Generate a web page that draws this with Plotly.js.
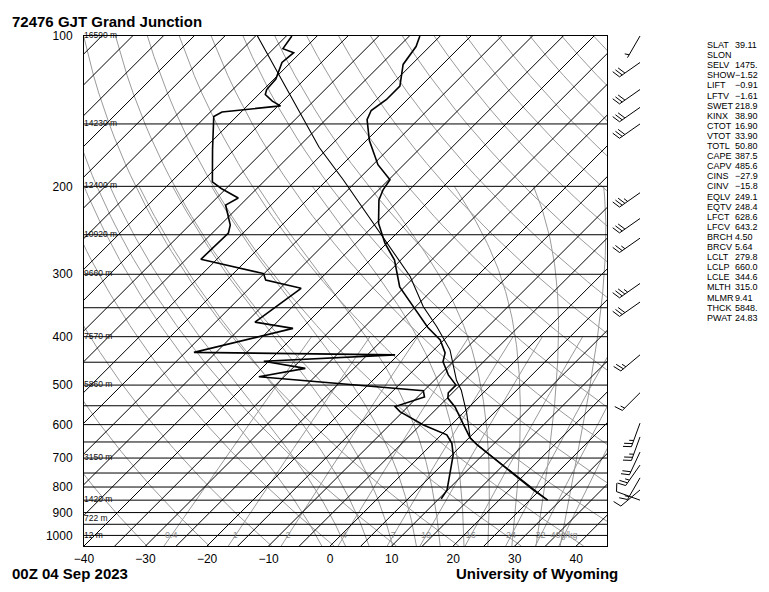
<!DOCTYPE html>
<html><head><meta charset="utf-8">
<script src="https://cdn.plot.ly/plotly-3.0.1.min.js"></script>
<style>html,body{margin:0;padding:0;background:#fff;}#chart{width:769px;height:592px;}</style>
</head><body><div id="chart"></div>
<script>
// ---- sounding data ----
const tempP = [100,105,114,126,134,141,147,162,181,194,203,213,237,260,281,318,351,383,406,431,449,477,500,518,531,553,596,638,659,684,716,764,811,850];
const tempT = [-68.3,-67.2,-66.4,-63.4,-63.4,-64.1,-63.3,-59.5,-54.2,-49.8,-49.3,-48.3,-44.6,-40.3,-36.0,-30.8,-24.9,-19.7,-15.6,-12.7,-11.6,-8.6,-5.7,-5.7,-4.9,-2.3,1.6,5.2,7.5,10.4,14.1,19.2,23.9,27.9];
const dwptP = [100,106,108,113,122,128,131,135,138,142,145,169,196,202,211,218,239,248,280,299,308,320,374,385,430,435,448,463,481,513,528,552,565,601,629,654,690,763,811,845];
const dwptT = [-89.1,-88.5,-86.1,-86.4,-84.7,-84.5,-83.9,-81.7,-79.6,-88.1,-88.7,-83.5,-78.3,-75.8,-71.5,-72.4,-68.4,-67.4,-67.6,-55.1,-53.7,-46.6,-48.6,-41.4,-53.6,-20.5,-40.8,-32.9,-39.1,-10.1,-8.9,-12.1,-10.5,-4.5,0.9,3.1,5.2,8.2,9.9,10.4];
const parcelP = [100,167,194,303,348,382,425,489,512,569,638,659,850];
const parcelT = [-94.7,-66.6,-57.4,-30.8,-23.8,-18.3,-12.4,-6.4,-4.0,0.6,5.2,7.5,27.9];
const windP   = [100,113,128,139,150,206,232,254,313,341,435,518,596,635,681,723,767,811,850];
const windDir = [210,235,235,235,235,235,235,235,235,235,230,225,200,200,205,215,210,230,290];
const windSpd = [5,30,30,30,30,35,30,25,35,30,25,15,25,25,20,25,15,10,10];
const heightP = [100,150,200,250,300,400,500,700,850,925,1000];
const heightLabels = ['16590 m','14230 m','12400 m','10920 m','9660 m','7570 m','5860 m','3150 m','1420 m','722 m','12 m'];
const pressureTicks = [100,200,300,400,500,600,700,800,900,1000];
const tempTicks = [-40,-30,-20,-10,0,10,20,30,40];
const mixRatios = [0.4,1,2,4,7,10,16,24,32,40];
const mixLabels = ['0.4','1','2','4','7','10','16','24','32','40g/kg'];
const indexNames = ['SLAT','SLON','SELV','SHOW','LIFT','LFTV','SWET','KINX','CTOT','VTOT','TOTL','CAPE','CAPV','CINS','CINV','EQLV','EQTV','LFCT','LFCV','BRCH','BRCV','LCLT','LCLP','LCLE','MLTH','MLMR','THCK','PWAT'];
const indexValues = ['39.11','','1475.','\u22121.52','\u22120.91','\u22121.61','218.9','38.90','16.90','33.90','50.80','387.5','485.6','\u221227.9','\u221215.8','249.1','248.4','628.6','643.2','4.50','5.64','279.8','660.0','344.6','315.0','9.41','5848.','24.83'];
const stationTitle = '72476 GJT Grand Junction';
const dateLabel = '00Z 04 Sep 2023';
const sourceLabel = 'University of Wyoming';

// ---- diagram geometry ----
const PTOP = 100, PBOT = 1050, TMIN = -40, TMAX = 45;
const W = 769, H = 592, ML = 84, MT = 36, MB = 46;
const plotW = 523, plotH = H - MT - MB;
const PXDEC = plotH / Math.log10(PBOT / PTOP);
const PXDEG = plotW / (TMAX - TMIN);
const SKEW = PXDEC / PXDEG;
const sx = (T, p) => T + SKEW * Math.log10(PBOT / p);

const GRAY = '#9a9a9a';
function lineTrace(xs, ys, color, width, axis) {
  return {x: xs, y: ys, mode: 'lines', type: 'scatter', hoverinfo: 'skip', showlegend: false,
    line: {color: color, width: width}, xaxis: axis || 'x', yaxis: 'y'};
}

// dry adiabats
const daX = [], daY = [];
for (let th = 230; th <= 460; th += 10) {
  for (let p = PBOT; p >= PTOP; p -= 10) {
    const T = th * Math.pow(p / 1000, 0.2857) - 273.15;
    daX.push(sx(T, p)); daY.push(p);
  }
  daX.push(null); daY.push(null);
}
// moist adiabats
function es(Tc) { return 6.112 * Math.exp(17.67 * Tc / (Tc + 243.5)); }
function dTdp(T, p) {
  const e = es(T - 273.15), rs = 0.622 * e / (p - e);
  const Rd = 287.04, cp = 1005.7, Lv = 2.501e6;
  return (Rd * T + Lv * rs) / (p * (cp + Lv * Lv * rs * 0.622 / (Rd * T * T)));
}
function integrate(T0, p0, p1, dp) {
  const out = [];
  let T = T0, p = p0;
  out.push([p, T]);
  const n = Math.round(Math.abs(p1 - p0) / Math.abs(dp));
  for (let i = 0; i < n; i++) {
    const k1 = dTdp(T, p), k2 = dTdp(T + k1 * dp / 2, p + dp / 2);
    const k3 = dTdp(T + k2 * dp / 2, p + dp / 2), k4 = dTdp(T + k3 * dp, p + dp);
    T += dp * (k1 + 2 * k2 + 2 * k3 + k4) / 6; p += dp;
    out.push([p, T]);
  }
  return out;
}
const maX = [], maY = [];
for (let tw = -4; tw <= 36; tw += 4) {
  const down = integrate(tw + 273.15, 1000, PBOT, 5).reverse();
  const up = integrate(tw + 273.15, 1000, 200, -5).slice(1);
  down.concat(up).forEach(([p, T]) => { maX.push(sx(T - 273.15, p)); maY.push(p); });
  maX.push(null); maY.push(null);
}
// mixing ratio lines
function tdFromW(w, p) {
  const e = w * p / (622 + w), l = Math.log(e / 6.112);
  return 243.5 * l / (17.67 - l);
}
const mrX = [], mrY = [];
mixRatios.forEach(w => {
  for (let p = PBOT; p >= 400; p -= 10) { mrX.push(sx(tdFromW(w, p), p)); mrY.push(p); }
  mrX.push(null); mrY.push(null);
});
// isotherms
const itX = [], itY = [];
for (let T = -130; T <= 45; T += 5) { itX.push(sx(T, PBOT), sx(T, PTOP), null); itY.push(PBOT, PTOP, null); }
// isobars
const ibX = [], ibY = [];
for (let p = 150; p <= 1000; p += 50) { ibX.push(TMIN, TMAX, null); ibY.push(p, p, null); }

// wind barbs (x2 axis in pixel units)
const bX = [], bY = [];
const STN = 33, LEN = 25, FULL = 8.5, HALF = 4.5, GAP = 3.3;
for (let i = 0; i < windP.length; i++) {
  const d = windDir[i] * Math.PI / 180;
  const ux = Math.sin(d), uy = -Math.cos(d);
  const p0 = windP[i];
  const toP = dy => p0 * Math.pow(10, dy / PXDEC);
  bX.push(STN, STN + LEN * ux, null); bY.push(p0, toP(LEN * uy), null);
  const nx = -uy, ny = ux, a = 18 * Math.PI / 180;
  const vx = nx * Math.cos(a) + ux * Math.sin(a), vy = ny * Math.cos(a) + uy * Math.sin(a);
  let spd = Math.round(windSpd[i] / 5) * 5, pos = LEN;
  const draw = len => {
    const x0 = STN + pos * ux, y0 = pos * uy;
    bX.push(x0, x0 + len * vx, null); bY.push(toP(y0), toP(y0 + len * vy), null);
  };
  while (spd >= 10) { draw(FULL); pos -= GAP; spd -= 10; }
  if (spd >= 5) { if (pos === LEN) pos -= GAP; draw(HALF); }
}

const FONT = 'Liberation Sans, Arial, Helvetica, sans-serif';
const traces = [
  lineTrace(daX, daY, GRAY, 1),
  lineTrace(maX, maY, GRAY, 1),
  lineTrace(mrX, mrY, GRAY, 1),
  lineTrace(itX, itY, '#000', 1),
  lineTrace(ibX, ibY, '#000', 1),
  lineTrace(parcelP.map((p, i) => sx(parcelT[i], p)), parcelP, '#000', 1.1),
  lineTrace(dwptP.map((p, i) => sx(dwptT[i], p)), dwptP, '#000', 1.6),
  lineTrace(tempP.map((p, i) => sx(tempT[i], p)), tempP, '#000', 1.6),
  lineTrace(bX, bY, '#000', 1, 'x2'),
  {x: mixRatios.map(w => sx(tdFromW(w, 1000), 1000)), y: mixRatios.map(() => 1000), text: mixLabels,
   mode: 'text', type: 'scatter', textposition: 'middle center', cliponaxis: false, hoverinfo: 'skip', showlegend: false,
   textfont: {family: FONT, size: 9, color: '#8c8c8c'}},
  {x: heightP.map(() => TMIN), y: heightP, text: heightLabels, mode: 'text', type: 'scatter',
   textposition: 'middle right', cliponaxis: false, hoverinfo: 'skip', showlegend: false,
   textfont: {family: FONT, size: 8.5, color: '#111'}}
];

const annotations = [];
const py = px => (H - MB - px) / plotH;
const ppx = px => (px - ML) / (W - ML);
annotations.push({xref: 'paper', yref: 'paper', x: ppx(10), y: py(21), xanchor: 'left', yanchor: 'middle', showarrow: false,
  text: '<b>' + stationTitle + '</b>', font: {family: FONT, size: 15, color: '#000'}});
annotations.push({xref: 'paper', yref: 'paper', x: ppx(10), y: py(573), xanchor: 'left', yanchor: 'middle', showarrow: false,
  text: '<b>' + dateLabel + '</b>', font: {family: FONT, size: 15, color: '#000'}});
annotations.push({xref: 'paper', yref: 'paper', x: ppx(454), y: py(573), xanchor: 'left', yanchor: 'middle', showarrow: false,
  text: '<b>' + sourceLabel + '</b>', font: {family: FONT, size: 15, color: '#000'}});
indexNames.forEach((n, i) => {
  const y = py(45 + i * 10.1);
  annotations.push({xref: 'x2', yref: 'paper', x: 98, y: y, xanchor: 'left', yanchor: 'middle', showarrow: false,
    text: n, font: {family: FONT, size: 9, color: '#000'}});
  if (indexValues[i]) annotations.push({xref: 'x2', yref: 'paper', x: 126, y: y, xanchor: 'left', yanchor: 'middle', showarrow: false,
    text: indexValues[i], font: {family: FONT, size: 9, color: '#000'}});
});

const layout = {
  width: W, height: H, margin: {l: ML, r: 0, t: MT, b: MB, pad: 0},
  paper_bgcolor: '#fff', plot_bgcolor: '#fff', showlegend: false,
  font: {family: FONT, size: 12, color: '#000'},
  xaxis: {domain: [0, plotW / (W - ML)], range: [TMIN, TMAX], showgrid: false, zeroline: false,
    showline: true, mirror: true, linecolor: '#000', linewidth: 1, ticks: '',
    tickvals: tempTicks, ticktext: tempTicks.map(v => v < 0 ? '\u2212' + Math.abs(v) : String(v)),
    tickfont: {family: FONT, size: 12, color: '#000'}, ticklabelstandoff: 2, fixedrange: true},
  xaxis2: {domain: [plotW / (W - ML), 1], range: [0, W - ML - plotW], anchor: 'y', visible: false, fixedrange: true},
  yaxis: {type: 'log', range: [Math.log10(PBOT), Math.log10(PTOP)], showgrid: false, zeroline: false,
    showline: true, mirror: true, linecolor: '#000', linewidth: 1, ticks: '',
    tickvals: pressureTicks, ticktext: pressureTicks.map(String),
    tickfont: {family: FONT, size: 12, color: '#000'}, ticklabelstandoff: 8, fixedrange: true},
  annotations: annotations
};
Plotly.newPlot('chart', traces, layout, {staticPlot: true, displayModeBar: false});
</script></body></html>
